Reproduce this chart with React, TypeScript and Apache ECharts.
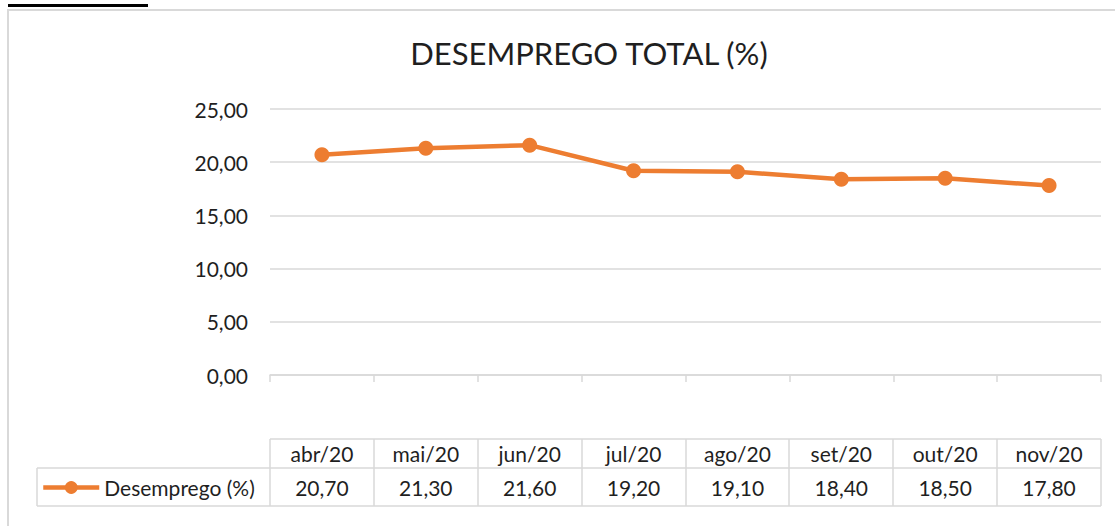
import React, { useEffect, useRef } from "react";
import * as echarts from "echarts";

const categories = ["abr/20", "mai/20", "jun/20", "jul/20", "ago/20", "set/20", "out/20", "nov/20"];
const desemprego = [20.7, 21.3, 21.6, 19.2, 19.1, 18.4, 18.5, 17.8];
const seriesName = "Desemprego (%)";
const chartTitle = "DESEMPREGO TOTAL (%)";
const yMin = 0;
const yMax = 25;
const yStep = 5;

const fmt = (v: number) => v.toFixed(2).replace(".", ",");

const W = 1115;
const H = 526;
const FONT = "Lato";
const TEXT = "#1f1f1f";
const GRID_C = "#d9d9d9";
const ORANGE = "#ED7D31";

const PLOT_L = 270;
const PLOT_R = 1101;
const PLOT_T = 109;
const PLOT_B = 375;
const ROW1_T = 439;
const ROW2_T = 468;
const ROW2_B = 506;
const LEG_L = 37;

export default function App() {
  const ref = useRef<HTMLDivElement>(null);
  useEffect(() => {
    document.body.style.margin = "0";
    if (!ref.current) return;
    const chart = echarts.init(ref.current, undefined, { renderer: "svg" });
    const n = categories.length;
    const cw = (PLOT_R - PLOT_L) / n;
    const lineStyle = { stroke: GRID_C, lineWidth: 1.5 };
    const tableLines: any[] = [
      { type: "line", shape: { x1: PLOT_L, y1: ROW1_T, x2: PLOT_R, y2: ROW1_T }, style: lineStyle },
      { type: "line", shape: { x1: LEG_L, y1: ROW2_T, x2: PLOT_R, y2: ROW2_T }, style: lineStyle },
      { type: "line", shape: { x1: LEG_L, y1: ROW2_B, x2: PLOT_R, y2: ROW2_B }, style: lineStyle },
      { type: "line", shape: { x1: LEG_L, y1: ROW2_T, x2: LEG_L, y2: ROW2_B }, style: lineStyle },
    ];
    for (let i = 0; i <= n; i++) {
      const x = Math.round(PLOT_L + i * cw);
      tableLines.push({ type: "line", shape: { x1: x, y1: ROW1_T, x2: x, y2: ROW2_B }, style: lineStyle });
    }
    chart.setOption({
      animation: false,
      textStyle: { fontFamily: FONT },
      grid: { left: PLOT_L, right: W - PLOT_R, top: PLOT_T, bottom: H - PLOT_B, containLabel: false },
      legend: {
        left: 41,
        top: 477,
        padding: 0,
        itemWidth: 56,
        itemHeight: 16,
        itemGap: 4,
        lineStyle: { width: 4.5, color: ORANGE },
        itemStyle: { color: ORANGE },
        textStyle: { fontFamily: FONT, fontSize: 21, color: TEXT },
        data: [seriesName],
      },
      xAxis: [
        {
          type: "category",
          data: categories,
          boundaryGap: true,
          position: "bottom",
          axisLine: { show: true, lineStyle: { color: GRID_C, width: 1.5 } },
          axisTick: { show: true, length: 7, lineStyle: { color: GRID_C, width: 1.5 } },
          axisLabel: {
            margin: 78,
            verticalAlign: "middle",
            fontFamily: FONT,
            fontSize: 21,
            color: TEXT,
            interval: 0,
          },
        },
        {
          type: "category",
          data: categories,
          boundaryGap: true,
          position: "bottom",
          axisLine: { show: false },
          axisTick: { show: false },
          axisLabel: {
            margin: 112,
            verticalAlign: "middle",
            fontFamily: FONT,
            fontSize: 21,
            color: TEXT,
            interval: 0,
            formatter: (_v: string, idx: number) => fmt(desemprego[idx]),
          },
        },
      ],
      yAxis: {
        type: "value",
        min: yMin,
        max: yMax,
        interval: yStep,
        axisLine: { show: false },
        axisTick: { show: false },
        splitLine: { show: true, lineStyle: { color: GRID_C, width: 1.5 } },
        axisLabel: {
          margin: 22,
          fontFamily: FONT,
          fontSize: 21,
          color: TEXT,
          formatter: (v: number) => fmt(v),
        },
      },
      series: [
        {
          name: seriesName,
          type: "line",
          data: desemprego,
          symbol: "circle",
          symbolSize: 15,
          lineStyle: { color: ORANGE, width: 4.5 },
          itemStyle: { color: ORANGE },
        },
      ],
      graphic: [
        { type: "rect", shape: { x: 8, y: 10, width: 1300, height: 700 }, style: { fill: "none", stroke: GRID_C, lineWidth: 2 }, silent: true },
        { type: "rect", shape: { x: 8, y: 4, width: 140, height: 3 }, style: { fill: "#000" }, silent: true },
        {
          type: "text",
          x: 589,
          y: 53,
          style: { text: chartTitle, align: "center", verticalAlign: "middle", fontFamily: FONT, fontSize: 31, fontWeight: "normal", fill: TEXT },
        },
        ...tableLines,
      ],
    });
    return () => chart.dispose();
  }, []);
  return <div ref={ref} style={{ width: W, height: H }} />;
}
